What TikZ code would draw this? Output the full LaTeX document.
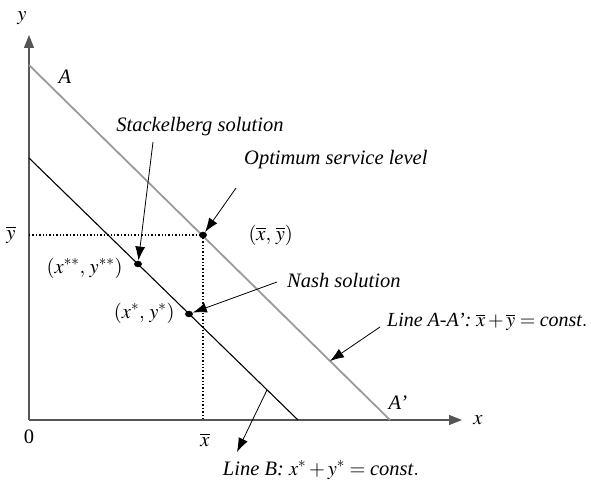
\documentclass[tikz,border=0pt]{standalone}
\usepackage{amsmath}
\usepackage{mathptmx}
\usepackage{fontspec}
\setmainfont{Liberation Serif}
\usepackage{tikz}
\usetikzlibrary{arrows.meta, positioning, calc, shapes.geometric}
\definecolor{caxis}{HTML}{555555}
\definecolor{cgrayline}{HTML}{9A9A9A}

\begin{document}
\begin{tikzpicture}[x=1pt, y=1pt, font=\fontsize{20.5}{24}\selectfont,
  lbl/.style={font=\fontsize{20.5}{24}\selectfont\itshape, inner sep=1pt},
  pt/.style={ellipse, fill=black, inner sep=0pt, minimum width=8pt, minimum height=6.5pt},
  callout/.style={-{Latex[length=14pt, width=10pt]}, line width=0.8pt}]
  \useasboundingbox (-29,-59) rectangle (562,420);
  % axes
  \coordinate (O) at (0,0);
  \coordinate (ytip) at (0,385);
  \coordinate (xtip) at (433,0);
  \draw[caxis, line width=1.4pt, -{Triangle[length=13pt, width=10pt]}] (O) -- (xtip);
  \draw[caxis, line width=1.4pt, -{Triangle[length=13pt, width=10pt]}] (O) -- (ytip);
  \node (xlab) at (449,0) {$x$};
  \node (ylab) at (-7,402) {$y$};
  \node (zero) at (0,-17) {0};

  % Line A-A'
  \coordinate (A0) at (0,355);
  \coordinate (A1) at (361,0);
  \draw[cgrayline, line width=1.8pt] (A0) -- (A1);
  \node[lbl] (Alab) at (36,343) {A};
  \node[lbl] (A1lab) at (369,17) {A’};

  % Line B
  \coordinate (B0) at (0,262);
  \coordinate (B1) at (269,0);
  \draw[black, line width=1.1pt] (B0) -- (B1);

  % optimum point and dotted guides
  \node[pt] (opt) at (174,185) {};
  \draw[dotted, line width=1.4pt] (0,185) -- (opt.center) -- (174,0);
  \node (ybar) at (-18,185) {$\overline{y}$};
  \node (xbar) at (176,-20) {$\overline{x}$};
  \node[anchor=west] (optlab) at (216,185) {$(\overline{x},\,\overline{y})$};

  % solutions
  \node[pt] (stack) at (109,156) {};
  \node[anchor=east] (stacklab) at (97,152) {$(x^{**},\, y^{**})$};
  \node[pt] (nash) at (160,106) {};
  \node[anchor=east] (nashlab) at (149,107) {$(x^{*},\, y^{*})$};

  % callouts
  \node[lbl] (stacktxt) at (171,293) {Stackelberg solution};
  \coordinate (stackfrom) at (124,278);
  \draw[callout] (stackfrom) -- (stack);
  \node[lbl, anchor=west] (opttxt) at (214,260) {Optimum service level};
  \coordinate (optfrom) at (207,232);
  \draw[callout] (optfrom) -- (opt);
  \node[lbl, anchor=west] (nashtxt) at (257,139) {Nash solution};
  \coordinate (nashfrom) at (248,138);
  \draw[callout] (nashfrom) -- (nash);
  \node[lbl, anchor=west, font=\fontsize{20}{24}\selectfont\itshape] (Atxt) at (357,98) {Line A-A’: \upshape$\overline{x}+\overline{y}=\textit{const}.$};
  \coordinate (Afrom) at (351,93);
  \coordinate (Aon) at (301,59);
  \draw[callout] (Afrom) -- (Aon);
  \node[lbl] (Btxt) at (292,-50) {Line B: \upshape$x^{*}+y^{*}=\textit{const}.$};
  \coordinate (Bon) at (238,30);
  \coordinate (Bto) at (208,-32);
  \draw[callout] (Bon) -- (Bto);
\end{tikzpicture}
\end{document}
